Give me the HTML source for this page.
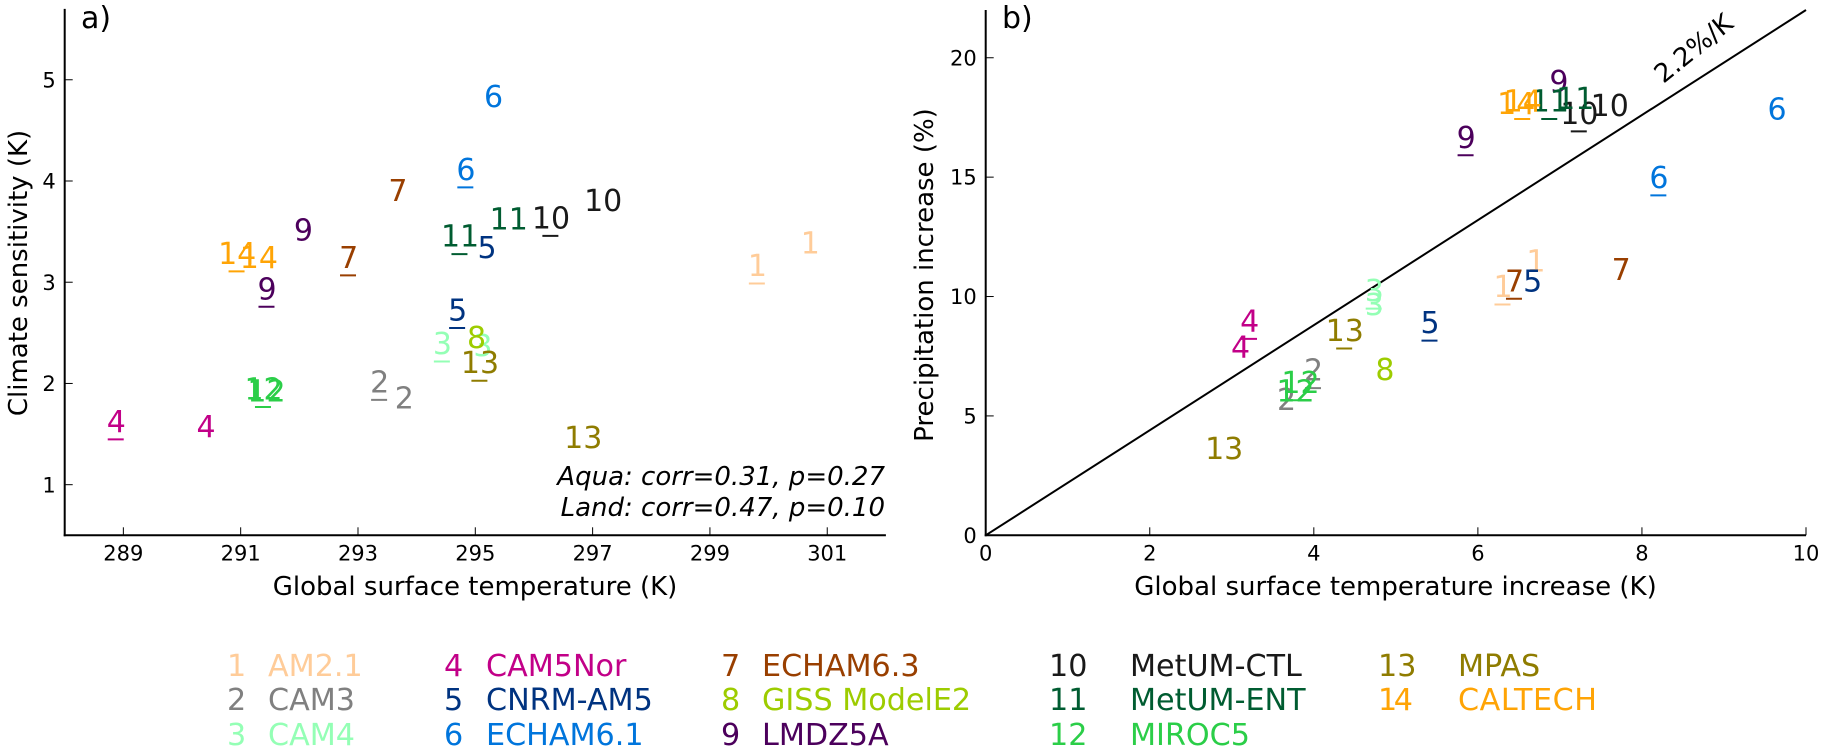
<!DOCTYPE html>
<html lang="en">
<head>
<meta charset="utf-8">
<title>Climate sensitivity and precipitation increase</title>
<style>
html,body{margin:0;padding:0;background:#fff;width:1824px;height:752px;overflow:hidden}
svg{display:block;position:absolute;left:0;top:0}
text{font-family:"DejaVu Sans","Liberation Sans",sans-serif;fill:#000}
.tick{font-size:21px}
.axis-title{font-size:26px}
.panel{font-size:30px}
.num{font-size:30px}
.legend{font-size:30.2px}
.note{font-size:26px;font-style:italic}
</style>
</head>
<body>
<svg id="chart" xmlns="http://www.w3.org/2000/svg" width="1824" height="752" viewBox="0 0 1824 752">
  <rect width="1824" height="752" fill="#fff"/>
  <g id="panel-a"></g>
  <g id="panel-b"></g>

  <text class="panel" x="81" y="28">a)</text>
  <text class="panel" x="1002" y="28">b)</text>

  <text class="axis-title" x="475" y="595" text-anchor="middle">Global surface temperature (K)</text>
  <text class="axis-title" transform="translate(27,273) rotate(-90)" text-anchor="middle">Climate sensitivity (K)</text>
  <text class="axis-title" x="1395.5" y="595" text-anchor="middle">Global surface temperature increase (K)</text>
  <text class="axis-title" transform="translate(933,275) rotate(-90)" text-anchor="middle">Precipitation increase (%)</text>

  <text class="note" x="885" y="485" text-anchor="end">Aqua: corr=0.31, p=0.27</text>
  <text class="note" x="885" y="516" text-anchor="end">Land: corr=0.47, p=0.10</text>

  <text class="axis-title" transform="translate(1694,49) rotate(-39)" text-anchor="middle" dominant-baseline="central">2.2%/K</text>

  <g>
    <g><text class="legend" x="227" y="676" style="fill:#ffcc99">1</text><text class="legend" x="268" y="676" style="fill:#ffcc99">AM2.1</text></g>
    <g><text class="legend" x="227" y="710" style="fill:#808080">2</text><text class="legend" x="268" y="710" style="fill:#808080">CAM3</text></g>
    <g><text class="legend" x="227" y="745" style="fill:#94ffb5">3</text><text class="legend" x="268" y="745" style="fill:#94ffb5">CAM4</text></g>
    <g><text class="legend" x="444" y="676" style="fill:#c20088">4</text><text class="legend" x="486" y="676" style="fill:#c20088">CAM5Nor</text></g>
    <g><text class="legend" x="444" y="710" style="fill:#003380">5</text><text class="legend" x="486" y="710" style="fill:#003380">CNRM-AM5</text></g>
    <g><text class="legend" x="444" y="745" style="fill:#0075dc">6</text><text class="legend" x="486" y="745" style="fill:#0075dc">ECHAM6.1</text></g>
    <g><text class="legend" x="721" y="676" style="fill:#993f00">7</text><text class="legend" x="762" y="676" style="fill:#993f00">ECHAM6.3</text></g>
    <g><text class="legend" x="721" y="710" style="fill:#9dcc00">8</text><text class="legend" x="762" y="710" style="fill:#9dcc00">GISS ModelE2</text></g>
    <g><text class="legend" x="721" y="745" style="fill:#4c005c">9</text><text class="legend" x="762" y="745" style="fill:#4c005c">LMDZ5A</text></g>
    <g><text class="legend" x="1049" y="676" style="fill:#191919">10</text><text class="legend" x="1130" y="676" style="fill:#191919">MetUM-CTL</text></g>
    <g><text class="legend" x="1049" y="710" style="fill:#005c31">11</text><text class="legend" x="1130" y="710" style="fill:#005c31">MetUM-ENT</text></g>
    <g><text class="legend" x="1049" y="745" style="fill:#2bce48">12</text><text class="legend" x="1130" y="745" style="fill:#2bce48">MIROC5</text></g>
    <g><text class="legend" x="1378" y="676" style="fill:#8f7c00">13</text><text class="legend" x="1458" y="676" style="fill:#8f7c00">MPAS</text></g>
    <g><text class="legend" x="1378" y="710" style="fill:#ffa405" textLength="35">14</text><text class="legend" x="1458" y="710" style="fill:#ffa405" textLength="139">CALTECH</text></g>
  </g>
</svg>
<script>
const modelIds = [1,2,3,4,5,6,7,8,9,10,11,12,13,14];
const modelColors = ['#ffcc99','#808080','#94ffb5','#c20088','#003380','#0075dc','#993f00','#9dcc00','#4c005c','#191919','#005c31','#2bce48','#8f7c00','#ffa405'];

const aquaTemperature = [299.80,293.36,294.43,288.87,294.69,294.83,292.83,null,291.44,296.28,294.73,291.38,295.07,290.93];
const aquaSensitivity = [3.17,2.02,2.40,1.63,2.73,4.12,3.25,null,2.94,3.64,3.46,1.95,2.21,3.29];
const landTemperature = [300.70,293.78,295.12,290.40,295.19,295.30,293.67,295.01,292.06,297.17,295.56,291.43,296.83,291.30];
const landSensitivity = [3.39,1.86,2.38,1.58,3.35,4.84,3.91,2.46,3.52,3.81,3.63,1.93,1.47,3.25];

const aquaWarming = [6.30,3.99,4.73,3.21,5.41,8.20,6.44,null,5.85,7.23,6.87,3.83,4.37,6.54];
const aquaPrecipitation = [10.44,6.94,10.27,9.00,8.93,15.01,10.68,null,16.69,17.69,18.21,6.43,8.60,18.21];
const landWarming = [6.70,3.66,4.73,3.10,6.66,9.64,7.74,4.86,6.98,7.60,7.18,3.77,2.90,6.46];
const landPrecipitation = [11.51,5.71,9.69,7.90,10.68,17.88,11.16,6.96,19.02,18.02,18.31,6.06,3.66,18.10];

const panelAXTicks = [289,291,293,295,297,299,301];
const panelAYTicks = [1,2,3,4,5];
const panelBXTicks = [0,2,4,6,8,10];
const panelBYTicks = [0,5,10,15,20];
const trendPercentPerK = [2.2];

const SVG_NS = 'http://www.w3.org/2000/svg';

function scale(d0, d1, r0, r1) {
  return function (v) { return r0 + (v - d0) * (r1 - r0) / (d1 - d0); };
}
const axAX = scale(288, 302, 64.7, 885.9);
const axAY = scale(0.5, 5.7, 535.3, 8.9);
const axBX = scale(0, 10, 985.7, 1806);
const axBY = scale(0, 22, 535.3, 10);

function mk(parent, tag, props, content) {
  const el = document.createElementNS(SVG_NS, tag);
  for (const k in props) el.setAttribute(k, props[k]);
  if (content !== undefined) el.textContent = content;
  parent.appendChild(el);
  return el;
}

function drawAxes(group, prefix, sx, sy, xTicks, yTicks, x0, x1, y0, y1) {
  const ySpine = mk(group, 'line', {x1: sx(x0), x2: sx(x0), y1: sy(y0) + 1, y2: sy(y1), stroke: '#000', 'stroke-width': 2});
  
  
  const xSpine = mk(group, 'line', {x1: sx(x0) - 1, x2: sx(x1), y1: sy(y0), y2: sy(y0), stroke: '#000', 'stroke-width': 2});
  
  

  xTicks.forEach(function (t) {
    const mark = mk(group, 'line', {x1: sx(t), x2: sx(t), y1: sy(y0), y2: sy(y0) - 8, stroke: '#000', 'stroke-width': 1});
    
    
    const label = mk(group, 'text', {class: 'tick', x: sx(t), y: 560.6, 'text-anchor': 'middle'}, String(t));
    
    
  });
  yTicks.forEach(function (t) {
    const mark = mk(group, 'line', {x1: sx(x0), x2: sx(x0) + 8, y1: sy(t), y2: sy(t), stroke: '#000', 'stroke-width': 1});
    
    
    const label = mk(group, 'text', {class: 'tick', x: sx(x0) - 9, y: sy(t) + 7.6, 'text-anchor': 'end'}, String(t));
    
    
  });
}

function drawPoint(group, prefix, kind, i, px, py, underlined) {
  const id = modelIds[i];
  const color = modelColors[i];
  const label = mk(group, 'text', {class: 'num', x: px + 0.6, y: py + 11, 'text-anchor': 'middle', style: 'fill:' + color}, String(id));
  
  
  if (underlined) {
    const bar = mk(group, 'line', {x1: px - 8, x2: px + 8, y1: py + 18.5, y2: py + 18.5, stroke: color, 'stroke-width': 2});
    
    
  }
}

function drawSeries(group, prefix, sx, sy, aquaX, aquaY, landX, landY) {
  modelIds.forEach(function (id, i) {
    if (aquaX[i] !== null) drawPoint(group, prefix, 'aqua', i, sx(aquaX[i]), sy(aquaY[i]), true);
    if (landX[i] !== null) drawPoint(group, prefix, 'land', i, sx(landX[i]), sy(landY[i]), false);
  });
}

const groupA = document.getElementById('panel-a');
const groupB = document.getElementById('panel-b');
drawAxes(groupA, 'panel-a', axAX, axAY, panelAXTicks, panelAYTicks, 288, 302, 0.5, 5.7);
drawAxes(groupB, 'panel-b', axBX, axBY, panelBXTicks, panelBYTicks, 0, 10, 0, 22);

const trend = mk(groupB, 'line', {x1: axBX(0), y1: axBY(0), x2: axBX(10), y2: axBY(10 * trendPercentPerK[0]), stroke: '#000', 'stroke-width': 2});



drawSeries(groupA, 'panel-a', axAX, axAY, aquaTemperature, aquaSensitivity, landTemperature, landSensitivity);
drawSeries(groupB, 'panel-b', axBX, axBY, aquaWarming, aquaPrecipitation, landWarming, landPrecipitation);
</script>
</body>
</html>
